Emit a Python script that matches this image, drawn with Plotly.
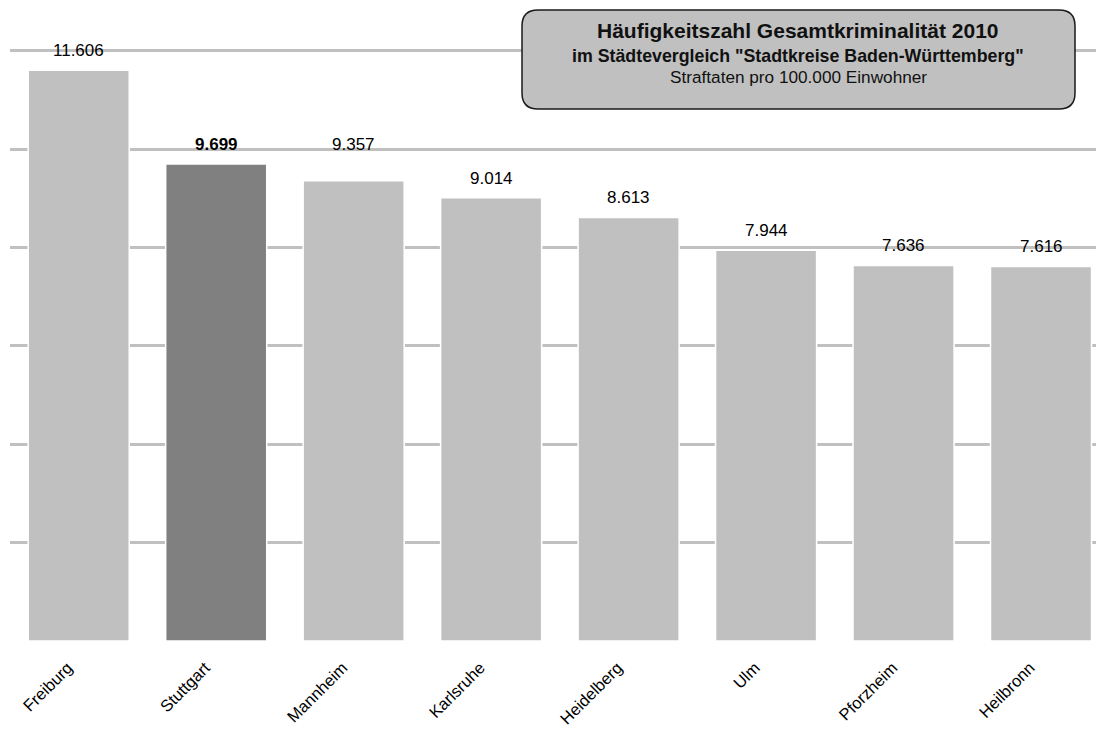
import plotly.graph_objects as go

cities = ["Freiburg", "Stuttgart", "Mannheim", "Karlsruhe", "Heidelberg", "Ulm", "Pforzheim", "Heilbronn"]
values = [11606, 9699, 9357, 9014, 8613, 7944, 7636, 7616]
labels = ["11.606", "9.699", "9.357", "9.014", "8.613", "7.944", "7.636", "7.616"]
highlight = "Stuttgart"
grid_vals = [2000, 4000, 6000, 8000, 10000, 12000]

title_l1 = "Häufigkeitszahl Gesamtkriminalität 2010"
title_l2 = 'im Städtevergleich "Stadtkreise Baden-Württemberg"'
title_l3 = "Straftaten pro 100.000 Einwohner"

FONT = "Arial, Liberation Sans, sans-serif"
W, H = 1096, 729
ML, MR, MT, MB = 10, 0, 41, 88

colors = ["#808080" if c == highlight else "#c0c0c0" for c in cities]

fig = go.Figure(go.Bar(
    x=cities, y=values,
    marker=dict(color=colors, line=dict(color="white", width=1.5)),
    hoverinfo="skip",
))

shifts = [8 if c != "Mannheim" else 25 for c in cities]
for c, v, t, s in zip(cities, values, labels, shifts):
    fig.add_annotation(
        x=c, y=v, text=("<b>%s</b>" % t) if c == highlight else t,
        showarrow=False, yanchor="bottom", yshift=s,
        font=dict(family=FONT, size=17, color="black"),
    )

# rounded title box in paper coordinates
pw = W - ML - MR
ph = H - MT - MB
def px(x):
    return (x - ML) / pw
def py(y):
    return (H - MB - y) / ph
x0, x1, y0, y1, r = 522, 1075, 10, 109, 16
path = (
    f"M {px(x0 + r)} {py(y0)} L {px(x1 - r)} {py(y0)} "
    f"Q {px(x1)} {py(y0)} {px(x1)} {py(y0 + r)} "
    f"L {px(x1)} {py(y1 - r)} Q {px(x1)} {py(y1)} {px(x1 - r)} {py(y1)} "
    f"L {px(x0 + r)} {py(y1)} Q {px(x0)} {py(y1)} {px(x0)} {py(y1 - r)} "
    f"L {px(x0)} {py(y0 + r)} Q {px(x0)} {py(y0)} {px(x0 + r)} {py(y0)} Z"
)
fig.add_shape(type="path", path=path, xref="paper", yref="paper",
              fillcolor="#c0c0c0", line=dict(color="#1a1a1a", width=1.5), layer="above")

cx = px(798)
fig.add_annotation(x=cx, y=py(30), xref="paper", yref="paper", showarrow=False,
                   xanchor="center", yanchor="middle",
                   text=f"<b>{title_l1}</b>", font=dict(family=FONT, size=21, color="#111"))
fig.add_annotation(x=cx, y=py(56), xref="paper", yref="paper", showarrow=False,
                   xanchor="center", yanchor="middle",
                   text=f"<b>{title_l2}</b>", font=dict(family=FONT, size=17.8, color="#111"))
fig.add_annotation(x=cx, y=py(77.5), xref="paper", yref="paper", showarrow=False,
                   xanchor="center", yanchor="middle",
                   text=title_l3, font=dict(family=FONT, size=17.2, color="#111"))

fig.update_layout(
    width=W, height=H,
    margin=dict(l=ML, r=MR, t=MT, b=MB),
    paper_bgcolor="white", plot_bgcolor="white",
    bargap=0.265, showlegend=False,
    xaxis=dict(range=[-0.5, 7.4], tickangle=-45, showgrid=False, showline=False,
               ticks="", ticklabelstandoff=13, ticklabelshift=-11,
               tickfont=dict(family=FONT, size=16.5, color="black")),
    yaxis=dict(range=[0, 12200], tickvals=grid_vals, showticklabels=False,
               showgrid=True, gridcolor="#c0c0c0", gridwidth=3,
               zeroline=False, showline=False, ticks=""),
)

fig.write_html("out.html", config={"displayModeBar": False},
               post_script="document.body.style.margin='0px';")
